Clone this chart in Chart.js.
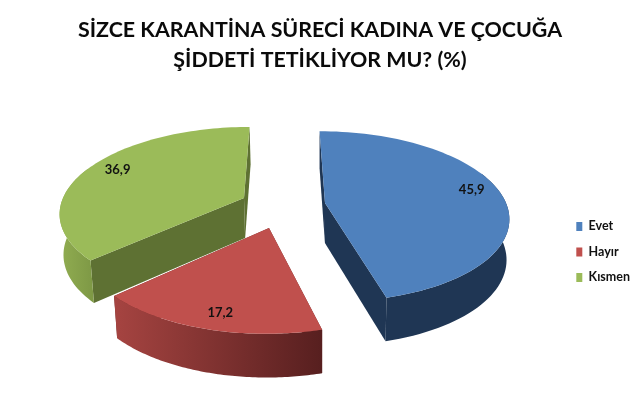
<!DOCTYPE html>
<html>
<head>
<meta charset="utf-8">
<style>
  html, body { margin: 0; padding: 0; background: #fff; }
  canvas { display: block; }
</style>
<script src="https://cdn.jsdelivr.net/npm/chart.js@4/dist/chart.umd.min.js"></script>
</head>
<body>
<canvas id="chart" width="640" height="419"></canvas>
<script>
const titleLines = ["SİZCE KARANTİNA SÜRECİ KADINA VE ÇOCUĞA", "ŞİDDETİ TETİKLİYOR MU? (%)"];
const categories = ["Evet", "Hayır", "Kısmen"];
const shares = [45.9, 17.2, 36.9];
const topColors = ["#4F81BD", "#C0504D", "#9BBB59"];

// Look of the 3D pie: tilted plane seen in perspective, slices pulled apart
const apexes = [[325, 203], [269, 228], [244, 198]];
const sliceScale = [1, 1.03, 1];
const wallLeft = ["#1F3654", "#A64441", "#91AD51"];
const wallRight = ["#1F3654", "#571F1F", "#7F9A46"];
const sideColors = ["#1F3654", "#6B2A28", "#5E7133"];
const labelRadius = [0.8, 0.86, 0.8];
const labelNudge = [[6, -5], [5, 0], [-2, -3]];

const RX = 181, RY = 75, PERSP = 0.157, VX = 285, VY = 152, DEPTH = 40;

function project(i, angle, r) {
  const a = apexes[i];
  const cx = Math.cos(angle) * r, cy = Math.sin(angle) * r;
  const f = 1 / (1 - PERSP * cy);
  return [a[0] + sliceScale[i] * RX * cx * f + (a[0] - VX) * (f - 1),
          a[1] + sliceScale[i] * RY * cy * f + (a[1] - VY) * (f - 1), f];
}

// same point on the lower face of the slice
function lower(p) {
  return [p[0] + (320 - p[0]) * 0.015, p[1] + DEPTH * (1 + (p[2] - 1) * 0.5), p[2]];
}

function fillPoly(ctx, pts, color) {
  ctx.beginPath();
  pts.forEach((p, n) => n ? ctx.lineTo(p[0], p[1]) : ctx.moveTo(p[0], p[1]));
  ctx.closePath();
  ctx.fillStyle = color;
  ctx.fill();
}

const pie3d = {
  id: "pie3d",
  beforeDatasetsDraw(chart) {
    const ctx = chart.ctx;
    chart.getDatasetMeta(0).data.forEach((arc, i) => {
      const steps = 80, rim = [], front = [];
      for (let s = 0; s <= steps; s++) {
        const angle = arc.startAngle + (arc.endAngle - arc.startAngle) * s / steps;
        const p = project(i, angle, 1);
        rim.push(p);
        // the back of the rim stays hidden under the top face
        if (Math.sin(angle) > -0.4) front.push(p);
      }
      const apex = project(i, 0, 0);

      // radial walls first, rim wall over them, top face last
      [rim[0], rim[steps]].forEach(p => {
        fillPoly(ctx, [apex, p, lower(p), lower(apex)], sideColors[i]);
      });
      const xs = front.map(p => p[0]);
      const wall = ctx.createLinearGradient(Math.min(...xs), 0, Math.max(...xs), 0);
      wall.addColorStop(0, wallLeft[i]);
      wall.addColorStop(1, wallRight[i]);
      fillPoly(ctx, [...front, ...front.map(lower).reverse()], wall);
      fillPoly(ctx, [apex, ...rim], topColors[i]);

      const mid = (arc.startAngle + arc.endAngle) / 2;
      const at = project(i, mid, labelRadius[i]);
      ctx.fillStyle = "#111";
      ctx.font = "bold 13px Lato";
      ctx.textAlign = "center";
      ctx.textBaseline = "middle";
      ctx.fillText(String(shares[i]).replace(".", ","), at[0] + labelNudge[i][0], at[1] + labelNudge[i][1]);
    });
    return false;
  }
};

new Chart(document.getElementById("chart"), {
  type: "pie",
  data: {
    labels: categories,
    datasets: [{ data: shares, backgroundColor: topColors, borderWidth: 0 }]
  },
  options: {
    responsive: false,
    animation: false,
    rotation: 0,
    layout: { padding: { top: 15, right: 0 } },
    plugins: {
      title: {
        display: true,
        text: titleLines,
        color: "#0a0a0a",
        font: { family: "Lato", size: 21.4, weight: "bold", lineHeight: 1.4 },
        padding: { top: 0, bottom: 10 }
      },
      legend: {
        position: "right",
        fullSize: false,
        labels: {
          color: "#111",
          font: { family: "Lato", size: 12.5, weight: "bold" },
          usePointStyle: true,
          pointStyle: "rect",
          pointStyleWidth: 6,
          boxHeight: 9,
          padding: 13
        }
      },
      tooltip: { enabled: false }
    }
  },
  plugins: [pie3d]
});
</script>
</body>
</html>
